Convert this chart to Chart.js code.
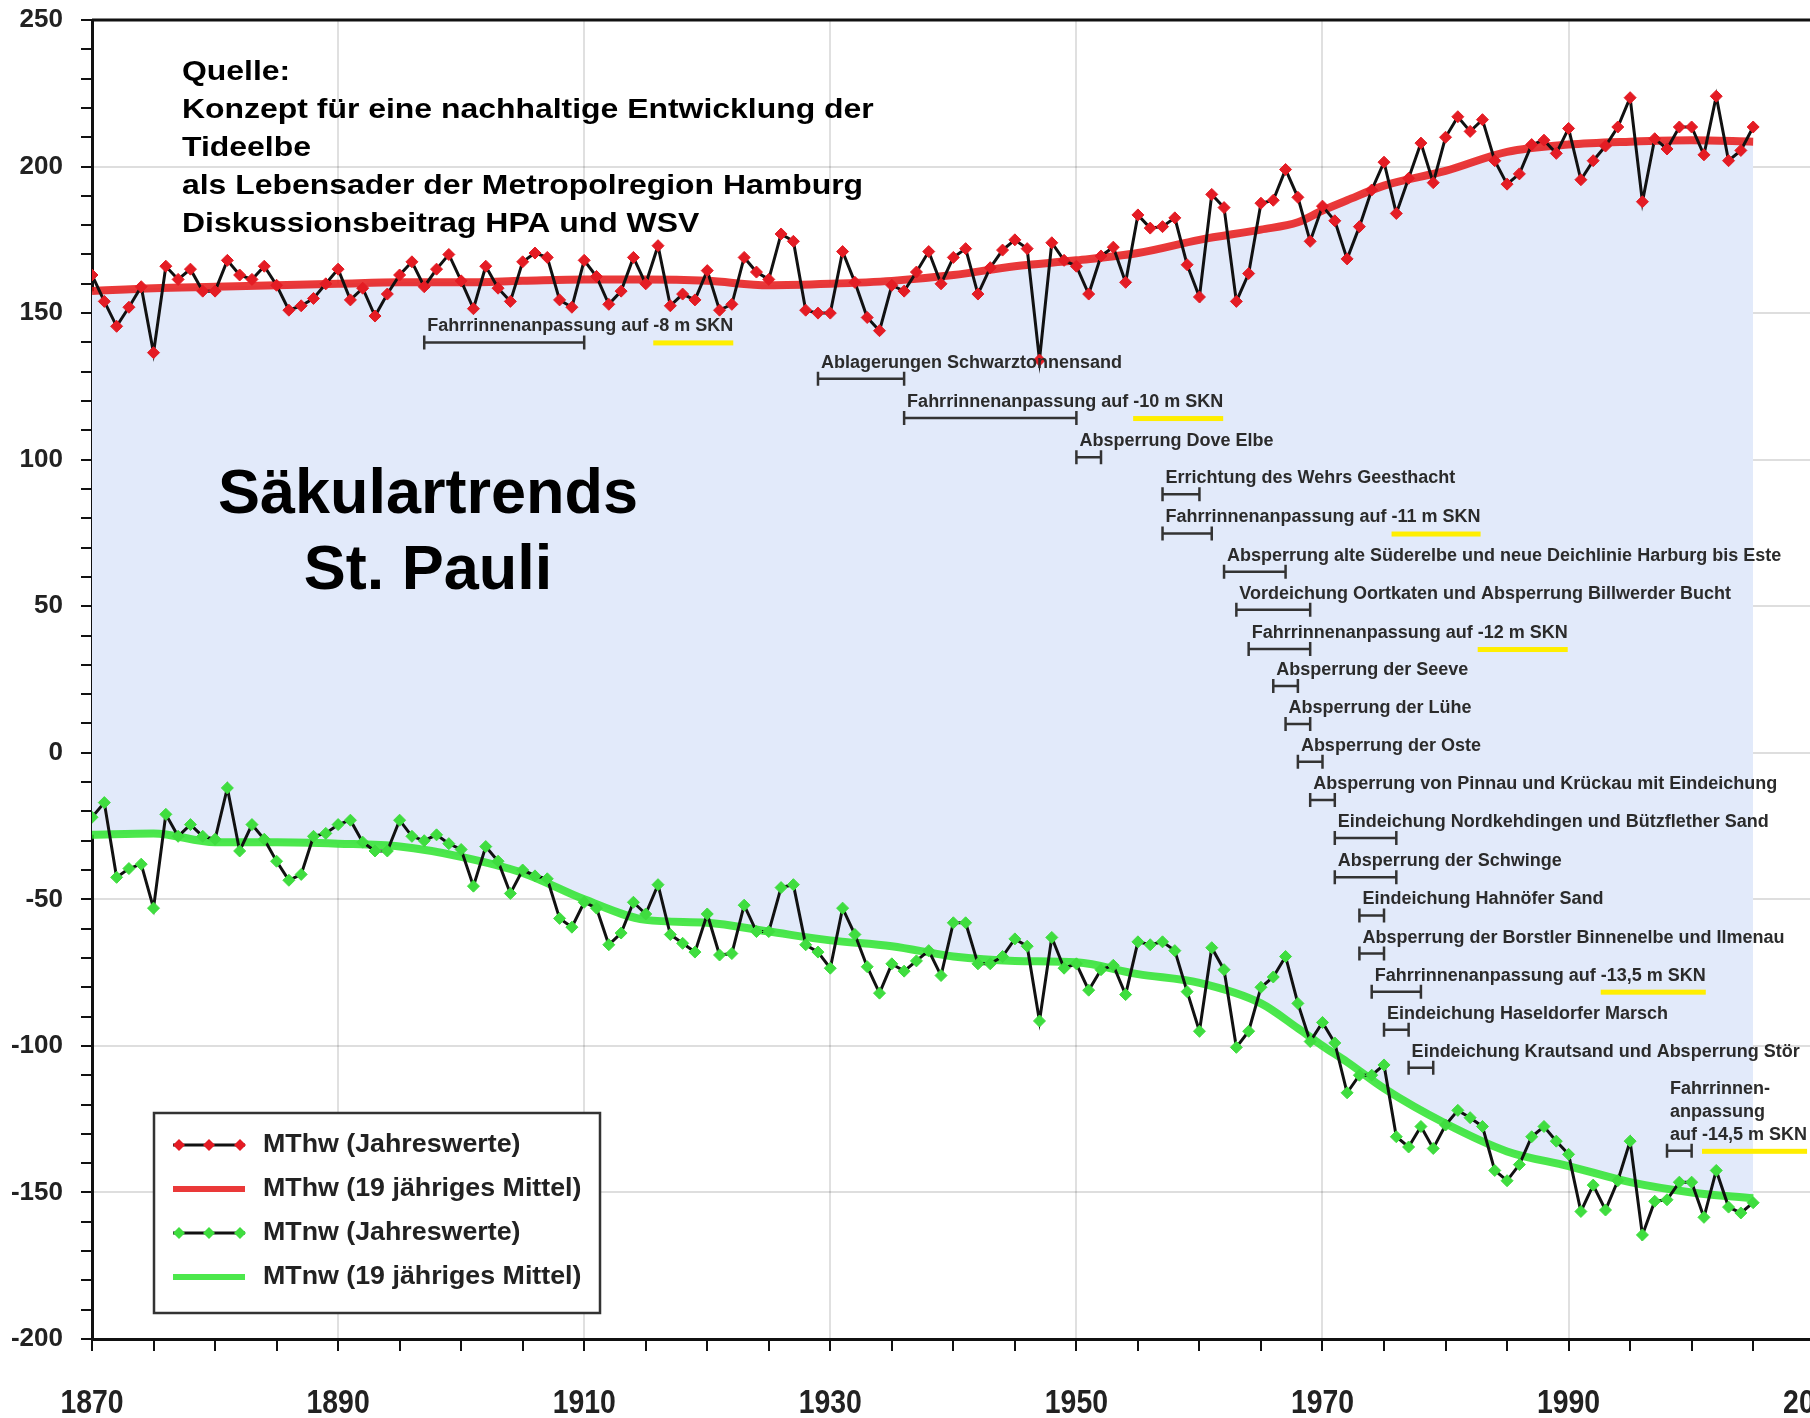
<!DOCTYPE html>
<html>
<head>
<meta charset="utf-8">
<script src="https://cdn.jsdelivr.net/npm/chart.js@4/dist/chart.umd.min.js"></script>
<style>
  html, body { margin: 0; padding: 0; background: #fff; overflow: hidden; }
  #wrap { position: relative; width: 1885px; height: 1418px; }
</style>
</head>
<body>
<div id="wrap"><canvas id="chart"></canvas></div>
<script>
// annual values, one per year starting at firstYear
const firstYear = 1870;
const mthw = [
  163, 154, 145.5, 152, 159, 136.5, 166, 161.5, 165, 157.5,
  157.5, 168, 163, 161.5, 166, 159.5, 151, 152.5, 155, 160,
  165, 154.5, 158.5, 149, 156.5, 163, 167.5, 159, 165, 170,
  161, 151.5, 166, 158.5, 154, 167.5, 170.5, 169, 154.5, 152,
  168, 162.5, 153, 157.5, 169, 160, 173, 152.5, 156.5, 154.5,
  164.5, 151, 153, 169, 164, 161.5, 177, 174.5, 151, 150,
  150, 171, 160.5, 148.5, 144, 159.5, 157.5, 164, 171, 160,
  169, 172, 156.5, 165.5, 171.5, 175, 172, 134, 174, 168,
  166, 156.5, 169.5, 172.5, 160.5, 183.5, 179, 179.5, 182.5, 166.5,
  155.5, 190.5, 186, 154, 163.5, 187.5, 188.5, 199, 189.5, 174.5,
  186.5, 181.5, 168.5, 179.5, 192, 201.5, 184, 196, 208, 194.5,
  210, 217, 212, 216, 202, 194, 197.5, 207.5, 209, 204.5,
  213, 195.5, 202, 207, 213.5, 223.5, 188, 209.5, 206, 213.5,
  213.5, 204, 224, 202, 205.5, 213.5
];
const mtnw = [
  -22, -17, -42.5, -39.5, -38, -53, -21, -28.5, -24.5, -28.5,
  -29.5, -12, -33.5, -24.5, -29.5, -37, -43.5, -41.5, -28.5, -27.5,
  -24.5, -23, -30.5, -33.5, -33.5, -23, -28.5, -30, -28, -31,
  -33, -45.5, -32, -37, -48, -40, -42, -43, -56.5, -59.5,
  -51, -53, -65.5, -61.5, -51, -55, -45, -62, -65, -68,
  -55, -69, -68.5, -52, -61, -61, -46, -45, -65.5, -68,
  -73.5, -53, -62, -73, -82, -72, -74.5, -71, -67.5, -76,
  -58, -58, -72, -72, -69.5, -63.5, -66, -91.5, -63, -73.5,
  -72, -81, -74, -72.5, -82.5, -64.5, -65.5, -64.5, -67.5, -81.5,
  -95, -66.5, -74, -100.5, -95, -80, -76.5, -69.5, -85.5, -98.5,
  -92, -99, -116, -110, -110, -106.5, -131, -134.5, -127.5, -135,
  -127, -122, -124.5, -127.5, -142.5, -146, -140.5, -131, -127.5, -132.5,
  -137, -156.5, -147.5, -156, -146, -132.5, -164.5, -153, -152.5, -146.5,
  -146.5, -158.5, -142.5, -155, -157, -153.5
];

// 19-year running means, read at these years
const meanYears = [1870, 1875, 1880, 1885, 1890, 1895, 1900, 1905, 1910, 1915,
  1920, 1925, 1930, 1935, 1940, 1945, 1950, 1955, 1960, 1965,
  1968, 1970, 1972, 1975, 1980, 1985, 1990, 1995, 2000, 2005];
const mthwMean = [157.5, 158.5, 159, 159.5, 160, 160.5, 160.5, 161, 161.5, 161.5,
  161, 159.5, 160, 161, 163, 166, 168, 170.5, 175, 178.5,
  181, 185, 188.5, 193.5, 198.5, 205, 207.5, 208.5, 209, 208.5];
const mtnwMean = [-28, -27.5, -30.5, -30.5, -31, -32, -35.5, -41, -50, -57,
  -58, -61, -64, -66, -69.5, -71, -71.5, -75.5, -78.5, -85.5,
  -94, -100, -105.5, -114.5, -126.5, -136, -141, -146.5, -150, -152];

const xMin = 1870, xMax = 2010, xStep = 5, xLabelEvery = 20;
const yMin = -200, yMax = 250, yStep = 10, yLabelEvery = 50;

const legendLabels = ['MThw (Jahreswerte)', 'MThw (19 jähriges Mittel)',
  'MTnw (Jahreswerte)', 'MTnw (19 jähriges Mittel)'];
const sourceLines = ['Quelle:', 'Konzept für eine nachhaltige Entwicklung der', 'Tideelbe',
  'als Lebensader der Metropolregion Hamburg', 'Diskussionsbeitrag HPA und WSV'];
const titleLines = ['Säkulartrends', 'St. Pauli'];

// river works: label, from year, to year, level on the y axis
const measureLabels = [
  'Fahrrinnenanpassung auf -8 m SKN',
  'Ablagerungen Schwarztonnensand',
  'Fahrrinnenanpassung auf -10 m SKN',
  'Absperrung Dove Elbe',
  'Errichtung des Wehrs Geesthacht',
  'Fahrrinnenanpassung auf -11 m SKN',
  'Absperrung alte Süderelbe und neue Deichlinie Harburg bis Este',
  'Vordeichung Oortkaten und Absperrung Billwerder Bucht',
  'Fahrrinnenanpassung auf -12 m SKN',
  'Absperrung der Seeve',
  'Absperrung der Lühe',
  'Absperrung der Oste',
  'Absperrung von Pinnau und Krückau mit Eindeichung',
  'Eindeichung Nordkehdingen und Bützflether Sand',
  'Absperrung der Schwinge',
  'Eindeichung Hahnöfer Sand',
  'Absperrung der Borstler Binnenelbe und Ilmenau',
  'Fahrrinnenanpassung auf -13,5 m SKN',
  'Eindeichung Haseldorfer Marsch',
  'Eindeichung Krautsand und Absperrung Stör',
  'Fahrrinnen-\nanpassung\nauf -14,5 m SKN'
];
const measureFrom = [1897, 1929, 1936, 1950, 1957, 1957, 1962, 1963, 1964, 1966, 1967,
  1968, 1969, 1971, 1971, 1973, 1973, 1974, 1975, 1977, 1998];
const measureTo = [1910, 1936, 1950, 1952, 1960, 1961, 1967, 1969, 1969, 1968, 1969,
  1970, 1971, 1976, 1976, 1975, 1975, 1978, 1977, 1979, 2000];
const measureLevel = [140, 127.6, 114.2, 100.8, 88.2, 74.8, 61.8, 48.8, 35.4, 22.8, 9.8,
  -3.1, -16.1, -29.1, -42.5, -55.5, -68.5, -81.5, -94.5, -107.5, -135.8];

const red = '#e41c24';
const green = '#3fdd3f';
const redMeanColor = 'rgba(230,22,22,0.85)';
const greenMeanColor = 'rgba(45,228,45,0.85)';
const fillBlue = '#e2eafa';
const textDark = '#222';

function annualPoints(values) {
  return values.map((v, i) => ({ x: firstYear + i, y: v }));
}
function meanPoints(values) {
  return values.map((v, i) => ({ x: meanYears[i], y: v }));
}

function diamond(ctx, cx, cy, r, color) {
  ctx.beginPath();
  ctx.moveTo(cx, cy - r);
  ctx.lineTo(cx + r, cy);
  ctx.lineTo(cx, cy + r);
  ctx.lineTo(cx - r, cy);
  ctx.closePath();
  ctx.fillStyle = color;
  ctx.fill();
}

function drawMeasures(chart) {
  const { ctx, scales: { x, y } } = chart;
  ctx.save();
  ctx.font = 'bold 18px "Liberation Sans", Arial, sans-serif';
  ctx.textBaseline = 'middle';
  measureLabels.forEach((label, i) => {
    const x1 = x.getPixelForValue(measureFrom[i]);
    const x2 = x.getPixelForValue(measureTo[i]);
    const yy = y.getPixelForValue(measureLevel[i]);
    const lines = label.split('\n');
    const last = lines[lines.length - 1];
    const k = last.search(/-\d/);
    if (k >= 0) {
      const ux = x1 + 3 + ctx.measureText(last.slice(0, k)).width;
      const uw = ctx.measureText(last.slice(k)).width;
      ctx.fillStyle = '#ffee00';
      ctx.fillRect(ux, yy - 2, uw, 5);
    }
    ctx.strokeStyle = '#333';
    ctx.lineWidth = 2.5;
    ctx.beginPath();
    ctx.moveTo(x1, yy); ctx.lineTo(x2, yy);
    ctx.moveTo(x1, yy - 7); ctx.lineTo(x1, yy + 7);
    ctx.moveTo(x2, yy - 7); ctx.lineTo(x2, yy + 7);
    ctx.stroke();
    ctx.fillStyle = '#2b2b2b';
    lines.forEach((ln, j) => {
      ctx.fillText(ln, x1 + 3, yy - 16 - (lines.length - 1 - j) * 23);
    });
  });
  ctx.restore();
}

function drawTexts(chart) {
  const ctx = chart.ctx;
  ctx.save();
  ctx.fillStyle = '#000';
  ctx.textBaseline = 'middle';
  ctx.font = 'bold 28px "Liberation Sans", Arial, sans-serif';
  sourceLines.forEach((ln, i) => {
    ctx.save();
    ctx.translate(182, 72 + i * 38);
    ctx.scale(1.14, 1);
    ctx.fillText(ln, 0, 0);
    ctx.restore();
  });
  ctx.font = 'bold 63px "Liberation Sans", Arial, sans-serif';
  ctx.textAlign = 'center';
  titleLines.forEach((ln, i) => ctx.fillText(ln, 428, 496 + i * 76));
  ctx.restore();
}

// condensed year labels under the x axis
function drawYearLabels(chart) {
  const { ctx, chartArea, scales: { x } } = chart;
  ctx.save();
  ctx.fillStyle = textDark;
  ctx.font = 'bold 33px "Liberation Sans", Arial, sans-serif';
  ctx.textAlign = 'center';
  ctx.textBaseline = 'middle';
  x.ticks.forEach(t => {
    if ((t.value - xMin) % xLabelEvery !== 0) return;
    ctx.save();
    ctx.translate(x.getPixelForValue(t.value), chartArea.bottom + 65);
    ctx.scale(0.86, 1);
    ctx.fillText(String(t.value), 0, 0);
    ctx.restore();
  });
  ctx.restore();
}

function drawLegend(chart) {
  const ctx = chart.ctx;
  const bx = 154, by = 1113, bw = 446, bh = 200;
  const rows = [1145, 1189, 1233, 1277];
  ctx.save();
  ctx.fillStyle = '#fff';
  ctx.fillRect(bx, by, bw, bh);
  ctx.strokeStyle = '#333';
  ctx.lineWidth = 2.5;
  ctx.strokeRect(bx, by, bw, bh);
  const styles = [
    { annual: true, color: red },
    { annual: false, color: redMeanColor },
    { annual: true, color: green },
    { annual: false, color: greenMeanColor }
  ];
  styles.forEach((s, i) => {
    const ry = rows[i];
    ctx.beginPath();
    ctx.moveTo(173, ry);
    ctx.lineTo(245, ry);
    if (s.annual) {
      ctx.strokeStyle = '#111';
      ctx.lineWidth = 3;
      ctx.stroke();
      [179, 209, 240].forEach(mx => diamond(ctx, mx, ry, 6, s.color));
    } else {
      ctx.strokeStyle = s.color;
      ctx.lineWidth = 6;
      ctx.stroke();
    }
    ctx.fillStyle = textDark;
    ctx.font = 'bold 26px "Liberation Sans", Arial, sans-serif';
    ctx.textBaseline = 'middle';
    ctx.save();
    ctx.translate(263, ry);
    ctx.scale(1.03, 1);
    ctx.fillText(legendLabels[i], 0, 0);
    ctx.restore();
  });
  ctx.restore();
}

const overlay = {
  id: 'overlay',
  afterDraw(chart) {
    const { ctx, chartArea } = chart;
    ctx.save();
    ctx.strokeStyle = '#111';
    ctx.lineWidth = 3;
    ctx.beginPath();
    ctx.moveTo(chartArea.left, chartArea.top);
    ctx.lineTo(chartArea.right, chartArea.top);
    ctx.stroke();
    ctx.restore();
    drawYearLabels(chart);
    drawMeasures(chart);
    drawTexts(chart);
    drawLegend(chart);
  }
};

new Chart(document.getElementById('chart'), {
  type: 'line',
  data: {
    datasets: [
      {
        label: legendLabels[0],
        data: annualPoints(mthw),
        borderColor: '#111',
        borderWidth: 3,
        pointStyle: 'rectRot',
        pointRadius: 6,
        pointBackgroundColor: red,
        pointBorderColor: red,
        pointBorderWidth: 1,
        tension: 0,
        fill: false
      },
      {
        label: legendLabels[2],
        data: annualPoints(mtnw),
        borderColor: '#111',
        borderWidth: 3,
        pointStyle: 'rectRot',
        pointRadius: 6,
        pointBackgroundColor: green,
        pointBorderColor: green,
        pointBorderWidth: 1,
        tension: 0,
        fill: false
      },
      {
        label: legendLabels[1],
        data: meanPoints(mthwMean),
        borderColor: redMeanColor,
        borderWidth: 8,
        pointRadius: 0,
        cubicInterpolationMode: 'monotone',
        backgroundColor: fillBlue,
        fill: { target: 3 }
      },
      {
        label: legendLabels[3],
        data: meanPoints(mtnwMean),
        borderColor: greenMeanColor,
        borderWidth: 8,
        pointRadius: 0,
        cubicInterpolationMode: 'monotone',
        fill: false
      }
    ]
  },
  options: {
    responsive: true,
    maintainAspectRatio: false,
    animation: false,
    layout: { padding: { top: 20, right: 48, left: 0, bottom: 0 } },
    plugins: {
      legend: { display: false },
      tooltip: { enabled: false },
      filler: { drawTime: 'beforeDatasetsDraw' }
    },
    scales: {
      x: {
        type: 'linear',
        min: xMin,
        max: xMax,
        afterFit(s) { s.height = 79; },
        border: { color: '#111', width: 3 },
        grid: {
          color: c => (c.tick && c.tick.value !== xMin && (c.tick.value - xMin) % xLabelEvery === 0) ? 'rgba(0,0,0,0.12)' : 'rgba(0,0,0,0)',
          lineWidth: 2,
          tickColor: '#111',
          tickWidth: 2,
          tickLength: 12
        },
        ticks: {
          stepSize: xStep,
          autoSkip: false,
          maxRotation: 0,
          padding: 29,
          color: 'rgba(0,0,0,0)',
          font: { family: '"Liberation Sans Narrow", "DejaVu Sans Condensed", sans-serif', weight: 'bold', size: 33 },
          callback: v => ((v - xMin) % xLabelEvery === 0 ? String(v) : '')
        }
      },
      y: {
        min: yMin,
        max: yMax,
        afterFit(s) {
          s.width = 92;
          s.paddingTop = 0;
          s.paddingBottom = 0;
        },
        border: { color: '#111', width: 3 },
        grid: {
          color: c => (c.tick && c.tick.value % yLabelEvery === 0 && c.tick.value !== yMin && c.tick.value !== yMax) ? 'rgba(0,0,0,0.13)' : 'rgba(0,0,0,0)',
          lineWidth: 2,
          tickColor: '#111',
          tickWidth: 2,
          tickLength: 11
        },
        ticks: {
          stepSize: yStep,
          autoSkip: false,
          padding: 18,
          color: textDark,
          font: { family: '"Liberation Sans", Arial, sans-serif', weight: 'bold', size: 26 },
          callback: v => (v % yLabelEvery === 0 ? String(v) : '')
        }
      }
    }
  },
  plugins: [overlay]
});
</script>
</body>
</html>
